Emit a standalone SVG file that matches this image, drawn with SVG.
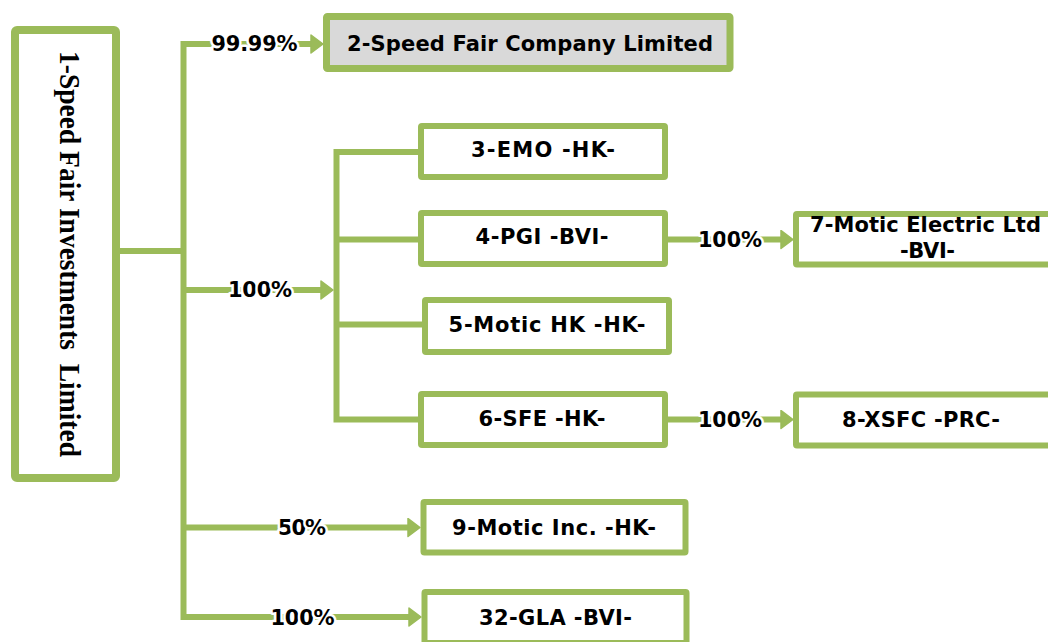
<svg xmlns="http://www.w3.org/2000/svg" width="1048" height="642" viewBox="0 0 1048 642">
<style>
.box{fill:#fff;stroke:#9BBB59;stroke-width:6}
.line{fill:none;stroke:#9BBB59;stroke-width:6;stroke-linejoin:miter}
.t{font-family:"DejaVu Sans",Verdana,sans-serif;font-weight:bold;font-size:21px;fill:#000;text-anchor:middle}
.pct{font-family:"DejaVu Sans",Verdana,sans-serif;font-weight:bold;font-size:21px;fill:#000;text-anchor:middle;stroke:#fff;stroke-width:5px;paint-order:stroke;stroke-linejoin:round}
</style>
<defs>
<marker id="arr" markerUnits="userSpaceOnUse" viewBox="0 0 14 20" refX="2" refY="10" markerWidth="14" markerHeight="20" orient="auto">
<path d="M1,1 L13,10 L1,19 z" fill="#9BBB59" stroke="#9BBB59" stroke-width="1.5" stroke-linejoin="round"/>
</marker>
</defs>
<rect width="1048" height="642" fill="#fff"/>
<g id="connectors">
<path class="line" d="M120,251 H183.5"/>
<path class="line" d="M183.5,251 V44 H312" marker-end="url(#arr)"/>
<path class="line" d="M183.5,251 V617 H410" marker-end="url(#arr)"/>
<path class="line" d="M183.5,290 H322" marker-end="url(#arr)"/>
<path class="line" d="M183.5,527.5 H409" marker-end="url(#arr)"/>
<path class="line" d="M421,152 H336.5 V419.5 H421"/>
<path class="line" d="M336.5,239.5 H421"/>
<path class="line" d="M336.5,324.5 H425"/>
<path class="line" d="M664,239.5 H782" marker-end="url(#arr)"/>
<path class="line" d="M664,419.5 H782" marker-end="url(#arr)"/>
<text class="pct" x="254.5" y="51" textLength="86">99.99%</text>
<text class="pct" x="260" y="296.5" textLength="64">100%</text>
<text class="pct" x="730" y="246.5" textLength="64">100%</text>
<text class="pct" x="730" y="426.5" textLength="64">100%</text>
<text class="pct" x="302" y="535" textLength="48">50%</text>
<text class="pct" x="302.5" y="624.5" textLength="64">100%</text>
</g>
<g id="node1">
<rect x="15" y="30" width="101" height="448" rx="2" fill="#fff" stroke="#9BBB59" stroke-width="8"/>
<text transform="translate(60,254) rotate(90)" x="0" y="0" text-anchor="middle" font-family="'Liberation Serif','Times New Roman',serif" font-weight="bold" font-size="29.5" textLength="406" lengthAdjust="spacingAndGlyphs" style="white-space:pre">1-Speed Fair Investments  Limited</text>
</g>
<g id="node2">
<rect x="326.5" y="16.5" width="403.5" height="52" rx="1" fill="#D9D9D9" stroke="#9BBB59" stroke-width="7"/>
<text class="t" x="530" y="51" textLength="366">2-Speed Fair Company Limited</text>
</g>
<g id="node3">
<rect class="box" x="421" y="126" width="244" height="51" rx="1"/>
<text class="t" x="543" y="157.3" textLength="144">3-EMO -HK-</text>
</g>
<g id="node4">
<rect class="box" x="421" y="213" width="244" height="51" rx="1"/>
<text class="t" x="542" y="244" textLength="133">4-PGI -BVI-</text>
</g>
<g id="node5">
<rect class="box" x="425" y="300" width="244" height="52" rx="1"/>
<text class="t" x="547" y="331.7" textLength="197">5-Motic HK -HK-</text>
</g>
<g id="node6">
<rect class="box" x="421" y="394" width="244" height="51" rx="1"/>
<text class="t" x="542" y="426" textLength="127">6-SFE -HK-</text>
</g>
<g id="node7">
<rect class="box" x="796" y="214" width="300" height="50.5" rx="1"/>
<text class="t" x="925.5" y="232.3" textLength="231">7-Motic Electric Ltd</text>
<text class="t" x="927.5" y="258.3" textLength="55">-BVI-</text>
</g>
<g id="node8">
<rect class="box" x="796" y="394.5" width="300" height="51" rx="1"/>
<text class="t" x="921" y="426.7" textLength="158">8-XSFC -PRC-</text>
</g>
<g id="node9">
<rect class="box" x="423.5" y="502" width="262" height="50.5" rx="1"/>
<text class="t" x="554" y="535" textLength="204">9-Motic Inc. -HK-</text>
</g>
<g id="node32">
<rect class="box" x="424.5" y="592" width="262" height="51" rx="1"/>
<text class="t" x="555.5" y="624.5" textLength="153">32-GLA -BVI-</text>
</g>
</svg>
